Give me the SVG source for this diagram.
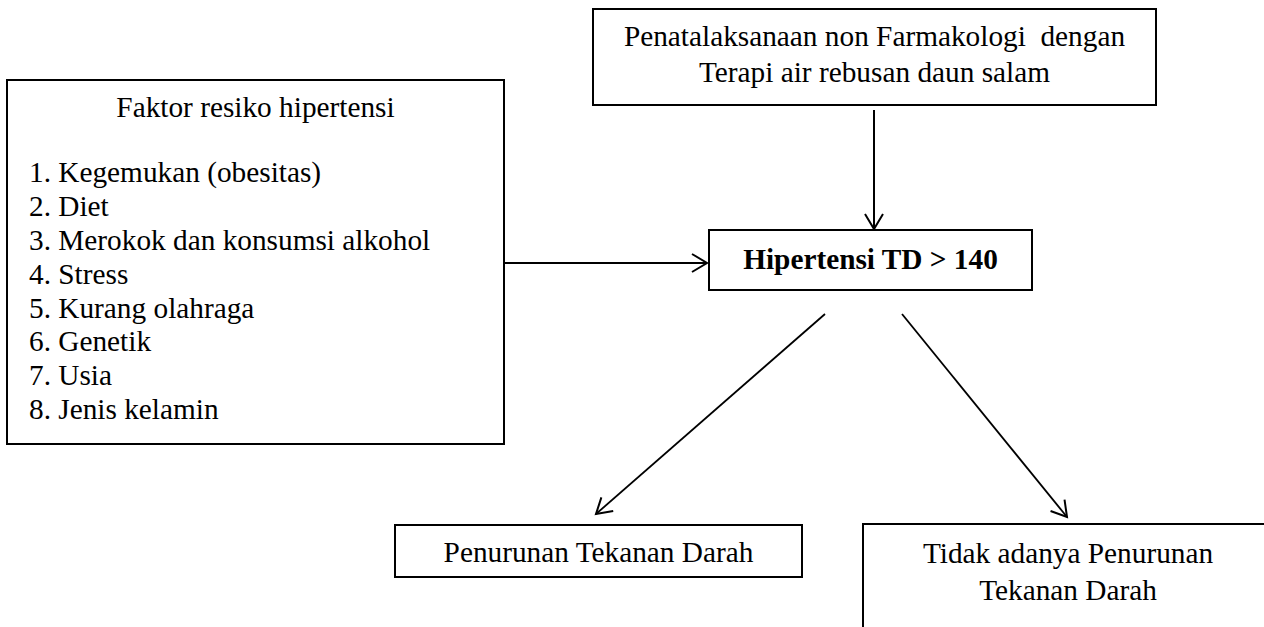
<svg xmlns="http://www.w3.org/2000/svg" width="1264" height="627" viewBox="0 0 1264 627">
<style>
.box{fill:#fff;stroke:#000;stroke-width:2}
.t{font-family:"Liberation Serif","Times New Roman",serif;font-size:29.3px;fill:#000}
.c{text-anchor:middle}
.b{font-weight:bold}
.ln{stroke:#000;stroke-width:2;fill:none}
.dg{stroke-width:1.8}
</style>
<defs>
<marker id="ah" markerUnits="userSpaceOnUse" markerWidth="30" markerHeight="30" viewBox="-20 -15 25 30" refX="0" refY="0" orient="auto">
<path d="M -15 -9 L 0 0 L -15 9" fill="none" stroke="#000" stroke-width="2"/>
</marker>
</defs>
<rect width="1264" height="627" fill="#fff"/>
<g id="connectors">
<line class="ln" x1="874" y1="110" x2="874" y2="229" marker-end="url(#ah)"/>
<line class="ln" x1="504" y1="263" x2="707" y2="263" marker-end="url(#ah)"/>
<line class="ln dg" x1="825" y1="314" x2="596" y2="514" marker-end="url(#ah)"/>
<line class="ln dg" x1="902" y1="314" x2="1067" y2="517" marker-end="url(#ah)"/>
</g>
<g id="node-terapi">
<rect class="box" x="593" y="9" width="563" height="96"/>
<text class="t c" x="874.5" y="46">Penatalaksanaan non Farmakologi&#160; dengan</text>
<text class="t c" x="874.5" y="82">Terapi air rebusan daun salam</text>
</g>
<g id="node-faktor">
<rect class="box" x="7" y="80" width="497" height="364"/>
<text class="t c" x="255.5" y="117">Faktor resiko hipertensi</text>
<text class="t" x="29" y="182">1. Kegemukan (obesitas)</text>
<text class="t" x="29" y="216">2. Diet</text>
<text class="t" x="29" y="250">3. Merokok dan konsumsi alkohol</text>
<text class="t" x="29" y="284">4. Stress</text>
<text class="t" x="29" y="318">5. Kurang olahraga</text>
<text class="t" x="29" y="351">6. Genetik</text>
<text class="t" x="29" y="385">7. Usia</text>
<text class="t" x="29" y="419">8. Jenis kelamin</text>
</g>
<g id="node-hipertensi">
<rect class="box" x="709" y="230" width="323" height="60"/>
<text class="t c b" x="870.5" y="269">Hipertensi TD &gt; 140</text>
</g>
<g id="node-penurunan">
<rect class="box" x="395" y="525" width="407" height="52"/>
<text class="t c" x="598.5" y="562">Penurunan Tekanan Darah</text>
</g>
<g id="node-tidak">
<path class="ln" d="M 863 628 L 863 524 L 1265 524"/>
<text class="t c" x="1068" y="563">Tidak adanya Penurunan</text>
<text class="t c" x="1068" y="600">Tekanan Darah</text>
</g>
</svg>
